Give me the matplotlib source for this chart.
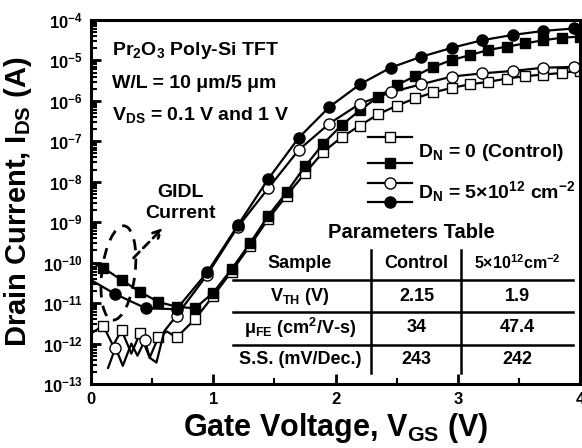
import math
import matplotlib
matplotlib.use('Agg')
from matplotlib import pyplot as plt
from matplotlib.patches import Ellipse
from matplotlib.lines import Line2D
from matplotlib.ticker import LogLocator, MultipleLocator, FuncFormatter, NullFormatter

plt.rcParams['font.family'] = 'Liberation Sans'
plt.rcParams['font.weight'] = 'bold'
plt.rcParams['axes.labelweight'] = 'bold'
plt.rcParams['mathtext.fontset'] = 'custom'
plt.rcParams['mathtext.rm'] = 'Liberation Sans:bold'
plt.rcParams['mathtext.bf'] = 'Liberation Sans:bold'
plt.rcParams['mathtext.it'] = 'Liberation Sans:bold'

###### data (log10 of drain current) ######
# D_N = 0, VDS = 0.1 V (open squares)
os_v = [0.0, 0.1, 0.18, 0.25, 0.33, 0.4, 0.48, 0.55, 0.62, 0.7, 0.85, 1.0, 1.15, 1.3, 1.45, 1.6,
        1.75, 1.9, 2.05, 2.2, 2.35, 2.5, 2.65, 2.8, 2.95, 3.1, 3.25, 3.4, 3.55, 3.7, 3.85, 4.0]
os_log = [-11.75, -11.56, -12.05, -11.67, -12.25, -11.75, -12.35, -11.85, -11.7, -11.85, -11.40,
          -10.82, -10.22, -9.58, -8.92, -8.34, -7.79, -7.26, -6.90, -6.61, -6.33, -6.12, -5.94,
          -5.79, -5.68, -5.59, -5.53, -5.45, -5.39, -5.35, -5.31, -5.25]
os_marks = [1, 3, 5, 7, 9] + list(range(10, 32))

# D_N = 0, VDS = 1 V (filled squares)
fs_v = [0.0, 0.1, 0.25, 0.4, 0.55, 0.7, 0.85, 1.0, 1.15, 1.3, 1.45, 1.6, 1.75, 1.9, 2.05, 2.2,
        2.35, 2.5, 2.65, 2.8, 2.95, 3.1, 3.25, 3.4, 3.55, 3.7, 3.85, 4.0]
fs_log = [-9.99, -10.13, -10.43, -10.72, -10.97, -11.09, -11.13, -10.74, -10.16, -9.52, -8.84,
          -8.26, -7.62, -7.06, -6.60, -6.23, -5.90, -5.61, -5.39, -5.16, -4.99, -4.87, -4.74,
          -4.66, -4.58, -4.50, -4.44, -4.41]
fs_marks = list(range(1, 28))

# D_N = 5e12, VDS = 0.1 V (open circles)
oc_v = [0.14, 0.2, 0.26, 0.33, 0.38, 0.44, 0.48, 0.535, 0.6, 0.7, 0.95, 1.2, 1.45, 1.7, 1.95,
        2.2, 2.45, 2.7, 2.95, 3.2, 3.45, 3.7, 3.95, 4.0]
oc_log = [-12.6, -12.10, -12.55, -12.0, -12.3, -11.92, -12.35, -12.47, -11.69, -11.31, -10.30,
          -9.12, -8.16, -7.21, -6.56, -6.07, -5.79, -5.59, -5.40, -5.32, -5.26, -5.18, -5.16, -5.15]
oc_marks = [1, 5] + list(range(9, 23))

# D_N = 5e12, VDS = 1 V (filled circles)
fc_v = [0.0, 0.2, 0.45, 0.7, 0.95, 1.2, 1.45, 1.7, 1.95, 2.2, 2.45, 2.7, 2.95, 3.2, 3.45, 3.7,
        3.95, 4.0]
fc_log = [-10.43, -10.78, -11.13, -11.15, -10.24, -9.08, -7.93, -6.91, -6.15, -5.59, -5.18,
          -4.91, -4.69, -4.50, -4.37, -4.27, -4.21, -4.20]
fc_marks = list(range(1, 17))

legend_labels = ['D$_N$ = 0 (Control)', 'D$_N$ = 5×10$^{12}$ cm$^{-2}$']

table_rows = ['Sample', 'V$_{TH}$ (V)', 'μ$_{FE}$ (cm$^2$/V-s)', 'S.S. (mV/Dec.)']
table_control = ['Control', '2.15', '34', '243']
table_dn = ['5×10$^{12}$cm$^{-2}$', '1.9', '47.4', '242']

###### figure ######
fig = plt.figure(figsize=(5.82, 4.48), dpi=100)
ax = fig.add_axes([0.1564, 0.1429, 0.8402, 0.8125])

def curr(vals):
    return [10 ** v for v in vals]

ax.plot(os_v, curr(os_log), color='black', lw=1.6, marker='s', ms=7, mfc='white',
        mec='black', mew=1, markevery=os_marks)
ax.plot(fs_v, curr(fs_log), color='black', lw=1.6, marker='s', ms=7, mfc='black',
        mec='black', markevery=fs_marks)
ax.plot(oc_v, curr(oc_log), color='black', lw=1.6, marker='o', ms=8, mfc='white',
        mec='black', mew=1, markevery=oc_marks)
ax.plot(fc_v, curr(fc_log), color='black', lw=1.6, marker='o', ms=8, mfc='black',
        mec='black', markevery=fc_marks)

ax.set_yscale('log')
ax.set_xlim(0, 4)
ax.set_ylim(1e-13, 1e-4)

ax.xaxis.set_major_locator(MultipleLocator(1))
ax.xaxis.set_minor_locator(MultipleLocator(0.5))
ax.yaxis.set_major_locator(LogLocator(base=10, numticks=20))
ax.yaxis.set_minor_locator(LogLocator(base=10, subs=range(2, 10), numticks=20))
ax.yaxis.set_major_formatter(FuncFormatter(lambda v, p: r'$\mathbf{10^{%d}}$' % round(math.log10(v))))
ax.yaxis.set_minor_formatter(NullFormatter())
ax.xaxis.set_major_formatter(FuncFormatter(lambda v, p: '%d' % v))

ax.tick_params(which='major', direction='in', length=7, width=2, labelsize=12, pad=6,
               top=False, right=False)
ax.tick_params(which='minor', direction='in', length=4, width=1.5, top=False, right=False)
for s in ax.spines.values():
    s.set_linewidth(2.2)

ax.set_xlabel('Gate Voltage, V$_{GS}$ (V)', fontsize=22, labelpad=3)
ax.set_ylabel('Drain Current, I$_{DS}$ (A)', fontsize=21, labelpad=6)

# device info
ax.text(0.043, 0.904, 'Pr$_2$O$_3$ Poly-Si TFT', transform=ax.transAxes, fontsize=14)
ax.text(0.043, 0.813, 'W/L = 10 μm/5 μm', transform=ax.transAxes, fontsize=14)
ax.text(0.043, 0.725, 'V$_{DS}$ = 0.1 V and 1 V', transform=ax.transAxes, fontsize=14)

# GIDL annotation
ax.add_patch(Ellipse((0.056, 0.305), 0.068, 0.26, angle=-5, transform=ax.transAxes,
                     fill=False, ls=(0, (4, 3)), lw=2, color='black'))
ax.annotate('', xy=(0.151, 0.434), xytext=(0.083, 0.341), xycoords='axes fraction',
            arrowprops=dict(arrowstyle='->', ls=(0, (3, 2)), lw=2, color='black',
                            mutation_scale=14))
ax.text(0.182, 0.515, 'GIDL', transform=ax.transAxes, fontsize=14, ha='center')
ax.text(0.182, 0.456, 'Current', transform=ax.transAxes, fontsize=14, ha='center')

# custom legend
leg_styles = [('s', 'white', 7), ('s', 'black', 7), ('o', 'white', 8), ('o', 'black', 8)]
leg_rows = [0.679, 0.607, 0.553, 0.501]
for (m, fc, ms), yy in zip(leg_styles, leg_rows):
    ax.add_line(Line2D([0.566, 0.611, 0.656], [yy, yy, yy], transform=ax.transAxes,
                       color='black', lw=1.6, marker=m, ms=ms, mfc=fc, mec='black',
                       mew=1, markevery=[1]))
ax.text(0.669, 0.624, legend_labels[0], transform=ax.transAxes, fontsize=14)
ax.text(0.669, 0.511, legend_labels[1], transform=ax.transAxes, fontsize=14)

# parameters table
ax.text(0.656, 0.415, 'Parameters Table', transform=ax.transAxes, fontsize=14.5,
        ha='center', va='center')
row_y = [0.332, 0.239, 0.154, 0.066]
for i, yy in enumerate(row_y):
    ax.text(0.427, yy, table_rows[i], transform=ax.transAxes, fontsize=13, ha='center', va='center')
    ax.text(0.666, yy, table_control[i], transform=ax.transAxes, fontsize=13, ha='center', va='center')
    ax.text(0.871, yy, table_dn[i], transform=ax.transAxes, fontsize=11.5 if i == 0 else 13,
            ha='center', va='center')
for yy in [0.286, 0.198, 0.107]:
    ax.plot([0.290, 0.986], [yy, yy], transform=ax.transAxes, color='black', lw=1.8)
for xx in [0.572, 0.756]:
    ax.plot([xx, xx], [0.368, 0.030], transform=ax.transAxes, color='black', lw=1.8)

fig.savefig('out.png', dpi=100)
